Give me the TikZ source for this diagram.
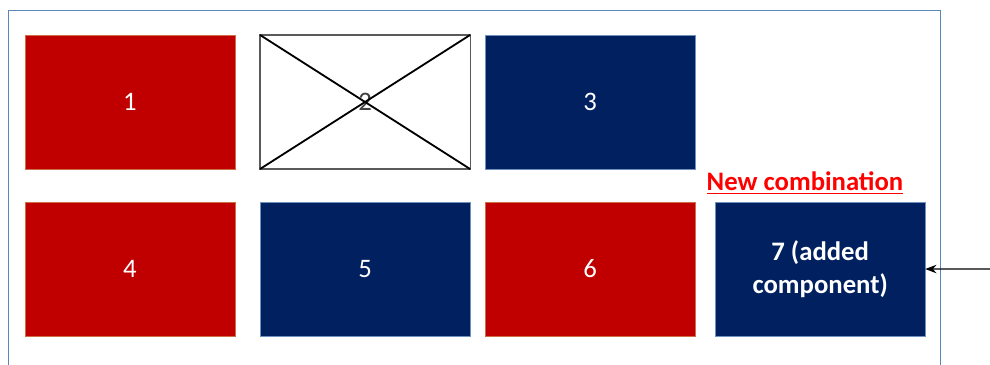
\documentclass[tikz,border=0pt]{standalone}
\usepackage{fontspec}
\setmainfont{Carlito}
\usepackage{xcolor}
\usetikzlibrary{arrows.meta,positioning}

\definecolor{boxred}{RGB}{192,0,0}
\definecolor{boxnavy}{RGB}{0,32,96}
\definecolor{redrim}{RGB}{205,110,70}
\definecolor{navyrim}{RGB}{110,145,190}
\definecolor{framecol}{RGB}{90,135,185}
\definecolor{crossgray}{RGB}{90,90,90}

\begin{document}
\begin{tikzpicture}[
x=0.025cm, y=-0.025cm,
box/.style={minimum width=5.25cm, minimum height=3.35cm, inner sep=0pt, outer sep=0pt, align=center, text=white, font=\fontsize{19}{23}\selectfont, line width=0.5pt},
redbox/.style={box, fill=boxred, draw=redrim},
navybox/.style={box, fill=boxnavy, draw=navyrim},
arr/.style={-{Stealth[length=8pt,width=6pt]}, line width=0.9pt}
]
\useasboundingbox (0,0) rectangle (990,365);
% outer frame, open at the bottom
\draw[framecol, line width=0.7pt] (8,365) |- (940,10) -- (940,365);

\node[redbox] (one) at (130,102) {1};
\node[box, draw=crossgray, line width=0.8pt, fill=white, text=black!75, right=0.625cm of one] (two) {2};
\node[navybox, right=0.375cm of two] (three) {3};
\node[redbox, below=0.825cm of one] (four) {4};
\node[navybox, below=0.825cm of two] (five) {5};
\node[redbox, below=0.825cm of three] (six) {6};
\node[navybox, right=0.5cm of six, font=\fontsize{19}{23}\bfseries] (seven) {7 (added\\component)};
\node[text=red, font=\fontsize{19}{23}\bfseries, inner sep=0pt] (newcomb) at (805,183) {\underline{New combination}};

\draw[black, line width=1.3pt] (two.north west) -- (two.south east);
\draw[black, line width=1.3pt] (two.south west) -- (two.north east);

\coordinate (src) at (990,269);
\draw[arr] (src) -- (seven.east);
\end{tikzpicture}
\end{document}
